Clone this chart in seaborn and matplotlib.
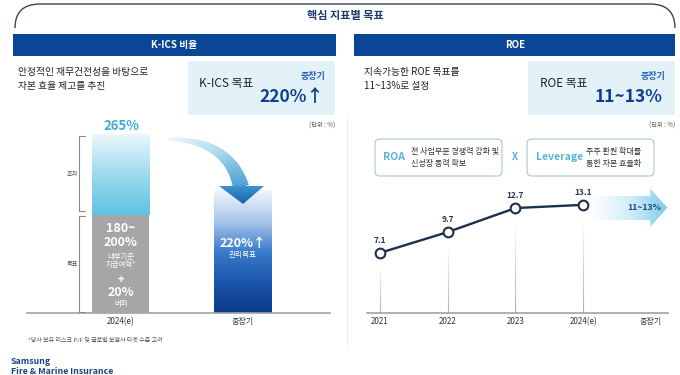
import numpy as np
import pandas as pd
import matplotlib
matplotlib.use("Agg")
import matplotlib.pyplot as plt
import seaborn as sns
from matplotlib.patches import FancyBboxPatch, Rectangle, Polygon, PathPatch
from matplotlib.path import Path
from matplotlib.colors import LinearSegmentedColormap, to_rgba
from matplotlib.collections import LineCollection

# ---------------- data ----------------
kics_categories = ["2024(e)", "중장기"]
kics_values = [265, 220]
kics_band_upper = 200          # top of the "180~200% + buffer" target band
roe_years = ["2021", "2022", "2023", "2024(e)", "중장기"]
roe_values = [7.1, 9.7, 12.7, 13.1]
roe_target_label = "11~13%"

sns.set_theme(style="white")
plt.rcParams["font.family"] = ["Noto Sans CJK KR", "DejaVu Sans"]

W, H = 680, 375
NAVY = "#0b4596"
DARK = "#1c2f4d"
LIGHTBOX = "#e3f1f9"
MIDBLUE = "#2a62b5"
CYAN = "#3aaed8"
SKY = "#5cb3d8"

fig = plt.figure(figsize=(6.8, 3.75), dpi=100)
fig.patch.set_facecolor("white")


def px_axes(l, t, r, b, z):
    a = fig.add_axes([l / W, 1 - b / H, (r - l) / W, (b - t) / H])
    a.set_zorder(z)
    a.patch.set_alpha(0)
    return a


# ---------------- background layer ----------------
bg = px_axes(0, 0, W, H, 0)
bg.set_xlim(0, W)
bg.set_ylim(H, 0)
bg.axis("off")

verts = [(15, 28), (15, 4), (40, 4), (650, 4), (675, 4), (675, 28)]
codes = [Path.MOVETO, Path.CURVE3, Path.CURVE3, Path.LINETO, Path.CURVE3, Path.CURVE3]
bg.add_patch(PathPatch(Path(verts, codes), fill=False, edgecolor="#33445e", lw=1.0))
bg.text(345, 16, "핵심 지표별 목표", ha="center", va="center", fontsize=8,
        fontweight="bold", color="#1d3b70")

bg.add_patch(Rectangle((13, 34), 323, 22, color=NAVY, lw=0))
bg.add_patch(Rectangle((354, 34), 321, 22, color=NAVY, lw=0))
bg.text(174, 45, "K-ICS 비율", ha="center", va="center", fontsize=7,
        fontweight="bold", color="white")
bg.text(515, 45, "ROE", ha="center", va="center", fontsize=7,
        fontweight="bold", color="white")

bg.plot([347, 347], [118, 345], color="#f0f0f0", lw=1)

# left description + target box
bg.text(18, 72, "안정적인 재무건전성을 바탕으로", ha="left", va="center", fontsize=7, color="#222222")
bg.text(18, 86, "자본 효율 제고를 추진", ha="left", va="center", fontsize=7, color="#222222")
bg.add_patch(Rectangle((188, 61), 147, 54, color=LIGHTBOX, lw=0))
bg.text(199, 83, "K-ICS 목표", ha="left", va="center", fontsize=8.5, color="#222222")
bg.text(325, 76, "중장기", ha="right", va="center", fontsize=6.5, fontweight="bold", color=MIDBLUE)
bg.text(324, 97, "220%↑", ha="right", va="center", fontsize=12.5, fontweight="bold", color="#0f3f8a")
bg.text(335, 126, "(단위 : %)", ha="right", va="center", fontsize=4.5, color="#555555")

# right description + target box
bg.text(364, 72, "지속가능한 ROE 목표를", ha="left", va="center", fontsize=7, color="#222222")
bg.text(364, 86, "11~13%로 설정", ha="left", va="center", fontsize=7, color="#222222")
bg.add_patch(Rectangle((528, 61), 147, 54, color=LIGHTBOX, lw=0))
bg.text(540, 83, "ROE 목표", ha="left", va="center", fontsize=8.5, color="#222222")
bg.text(665, 76, "중장기", ha="right", va="center", fontsize=6.5, fontweight="bold", color=MIDBLUE)
bg.text(663, 97, "11~13%", ha="right", va="center", fontsize=12.5, fontweight="bold", color="#0f3f8a")
bg.text(675, 126, "(단위 : %)", ha="right", va="center", fontsize=4.5, color="#555555")

# ROA x Leverage boxes
for (x0, w) in [(375, 127), (527, 127)]:
    bg.add_patch(FancyBboxPatch((x0, 139), w, 37, boxstyle="round,pad=0,rounding_size=5",
                                fc="white", ec="#a9c9d9", lw=0.8))
bg.text(383, 157.5, "ROA", ha="left", va="center", fontsize=7.5, fontweight="bold", color=SKY)
bg.text(411, 157.5, "전 사업부문 경쟁력 강화 및\n신성장 동력 확보", ha="left", va="center",
        fontsize=5.8, color="#333333", linespacing=1.45)
bg.text(515, 157.5, "X", ha="center", va="center", fontsize=7, fontweight="bold", color=SKY)
bg.text(536, 157.5, "Leverage", ha="left", va="center", fontsize=7.5, fontweight="bold", color=SKY)
bg.text(586, 157.5, "주주 환원 확대를\n통한 자본 효율화", ha="left", va="center",
        fontsize=5.8, color="#333333", linespacing=1.45)

# footnote + logo
bg.text(28, 340, "*당사 보유 리스크 P/F 및 글로벌 보험사 타겟 수준 고려", ha="left", va="center",
        fontsize=4.3, color="#555555")
bg.text(11, 361, "Samsung", ha="left", va="center", fontsize=6.3, fontweight="bold", color="#1a3f8a")
bg.text(11, 371, "Fire & Marine Insurance", ha="left", va="center", fontsize=6.3,
        fontweight="bold", color="#1a3f8a")

# ---------------- K-ICS bar chart ----------------
axb = px_axes(27, 120, 330, 313, 1)
kdf = pd.DataFrame({"category": kics_categories, "value": kics_values})
sns.barplot(data=kdf, x="category", y="value", order=kics_categories, ax=axb,
            width=0.47, color="white", saturation=1, linewidth=0)
bars = list(axb.patches)
YLIM = (121.6, 276)
XLIM = (-0.763, 1.71)

grad = np.linspace(0, 1, 256).reshape(-1, 1)
cm1 = LinearSegmentedColormap.from_list("c1", ["#5cc3e3", "#9fdaee", "#eef8fc"])
cm2 = LinearSegmentedColormap.from_list("c2", ["#0a3a8a", "#1a55ab", "#3b7bcb", "#a9c6ea", "#f1f6fc"])

p = bars[0]
x0, x1 = p.get_x(), p.get_x() + p.get_width()
im = axb.imshow(grad, cmap=cm1, extent=[x0, x1, kics_band_upper, p.get_height()],
                origin="lower", aspect="auto", zorder=2)
im.set_clip_path(p)
p = bars[1]
x0, x1 = p.get_x(), p.get_x() + p.get_width()
im = axb.imshow(grad, cmap=cm2, extent=[x0, x1, YLIM[0], p.get_height()],
                origin="lower", aspect="auto", zorder=2)
im.set_clip_path(p)

sns.barplot(x=[kics_categories[0]], y=[kics_band_upper], order=kics_categories, ax=axb,
            width=0.47, color="#a6a6a6", saturation=1, linewidth=0, zorder=3)

# brackets
bx, bt = -0.335, 0.045
for lo, hi, lab in [(kics_band_upper + 3, kics_values[0] - 2, "초과"),
                    (YLIM[0] + 0.8, kics_band_upper - 1, "목표")]:
    axb.plot([bx + bt, bx, bx, bx + bt], [lo, lo, hi, hi], color="#888888", lw=0.8, zorder=3)
    axb.text(bx - 0.06, (lo + hi) / 2, lab, ha="center", va="center", fontsize=4.5, color="#555555")

axb.set_xlim(*XLIM)
axb.set_ylim(*YLIM)
axb.set_xlabel("")
axb.set_ylabel("")
axb.set_yticks([])
for s in ["top", "left", "right"]:
    axb.spines[s].set_visible(False)
axb.spines["bottom"].set_color("#9aa3ad")
axb.spines["bottom"].set_linewidth(1.2)
axb.tick_params(axis="x", length=0, labelsize=5.8, pad=3, colors="#333333")

# ---------------- ROE line chart ----------------
axl = px_axes(367, 180, 668, 313, 1)
ldf = pd.DataFrame({"year": roe_years[:len(roe_values)], "roe": roe_values})
LYLIM = (-0.4, 16.2)

for i, v in enumerate(roe_values):
    ys = np.linspace(LYLIM[0], v - 2.0, 25)
    segs = [[(i, ys[k]), (i, ys[k + 1])] for k in range(len(ys) - 1)]
    alphas = np.linspace(0.9, 0.05, len(segs))
    cols = [to_rgba("#9aa4b0", a) for a in alphas]
    axl.add_collection(LineCollection(segs, colors=cols, linewidths=0.8, zorder=1))

sns.lineplot(data=ldf, x="year", y="roe", ax=axl, color=DARK, lw=1.7, marker="o",
             markersize=7, markerfacecolor="white", markeredgecolor=DARK,
             markeredgewidth=1.5, zorder=4)
for i, v in enumerate(roe_values):
    axl.annotate(f"{v:.1f}", (i, v), xytext=(0, 5.5), textcoords="offset points",
                 ha="center", va="bottom", fontsize=6, fontweight="bold", color="#2b3957")

# target arrow
arrow = Polygon([(3.1, 11.2), (3.99, 11.2), (3.99, 10.35), (4.24, 12.75),
                 (3.99, 15.1), (3.99, 14.2), (3.1, 14.2)], closed=True,
                fc="none", ec="none")
axl.add_patch(arrow)
cm3 = LinearSegmentedColormap.from_list("c3", ["#ffffff", "#d4eef8", "#7fcbea"])
im = axl.imshow(np.linspace(0, 1, 256).reshape(1, -1), cmap=cm3,
                extent=[3.1, 4.24, 10.35, 15.1], origin="lower", aspect="auto", zorder=2)
im.set_clip_path(arrow)
axl.text(3.9, 12.75, roe_target_label, ha="center", va="center", fontsize=6.3,
         fontweight="bold", color="#1f4a8a", zorder=5)

axl.set_xticks(range(len(roe_years)))
axl.set_xticklabels(roe_years)
axl.set_xlim(-0.19, 4.25)
axl.set_ylim(*LYLIM)
axl.set_xlabel("")
axl.set_ylabel("")
axl.set_yticks([])
for s in ["top", "left", "right"]:
    axl.spines[s].set_visible(False)
axl.spines["bottom"].set_color("#9aa3ad")
axl.spines["bottom"].set_linewidth(1.2)
axl.tick_params(axis="x", length=0, labelsize=5.8, pad=3, colors="#333333")

# ---------------- foreground layer ----------------
fg = px_axes(0, 0, W, H, 3)
fg.set_xlim(0, W)
fg.set_ylim(H, 0)
fg.axis("off")

fg.text(121, 126, f"{kics_values[0]}%", ha="center", va="center", fontsize=9.5,
        fontweight="bold", color=CYAN)
for (y, s, fs, fw) in [(228, "180~", 9, "bold"), (243, "200%", 9, "bold"),
                       (257, "내부기준", 5.3, "normal"), (265, "지급여력*", 5.3, "normal"),
                       (279, "+", 8, "bold"), (293, "20%", 9, "bold"), (304, "버퍼", 5.3, "normal")]:
    fg.text(121, y, s, ha="center", va="center", fontsize=fs, fontweight=fw, color="white")
fg.text(243, 244, "220%↑", ha="center", va="center", fontsize=9, fontweight="bold", color="white")
fg.text(243, 255, "관리목표", ha="center", va="center", fontsize=5.5, color="white")

# curved gradient arrow
P0, P1, P2 = np.array([168, 139]), np.array([229, 140]), np.array([241, 187])
t = np.linspace(0, 1, 61)
pts = ((1 - t) ** 2)[:, None] * P0 + (2 * (1 - t) * t)[:, None] * P1 + (t ** 2)[:, None] * P2
segs = [[tuple(pts[k]), tuple(pts[k + 1])] for k in range(len(pts) - 1)]
cma = LinearSegmentedColormap.from_list("ca", ["#eaf6fb", "#a6d8ee", "#3b95cf"])
cols = [cma(v) for v in np.linspace(0, 1, len(segs))]
widths = np.linspace(3, 16, len(segs)) * 0.72
fg.add_collection(LineCollection(segs, colors=cols, linewidths=widths, capstyle="butt"))
head = Polygon([(219, 186), (264, 186), (243, 204)], closed=True, fc="none", ec="none")
fg.add_patch(head)
cmh = LinearSegmentedColormap.from_list("ch", ["#1c5fae", "#3b95cf"])
im = fg.imshow(np.linspace(0, 1, 64).reshape(-1, 1), cmap=cmh, extent=[219, 264, 204, 186],
               origin="lower", aspect="auto", zorder=3)
im.set_clip_path(head)
fg.set_xlim(0, W)
fg.set_ylim(H, 0)

fig.savefig("out.png", dpi=100, facecolor="white")
